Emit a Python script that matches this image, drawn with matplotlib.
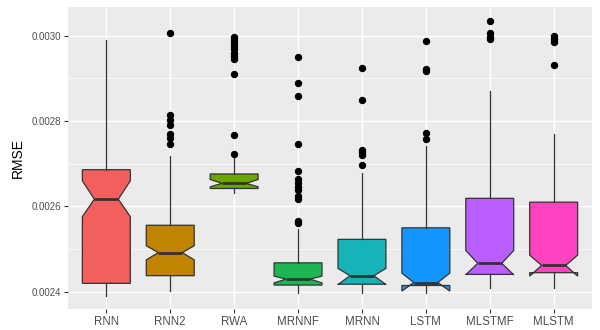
import matplotlib
matplotlib.use("Agg")
import matplotlib.pyplot as plt
from matplotlib.ticker import MultipleLocator

# box statistics
models = ["RNN", "RNN2", "RWA", "MRNNF", "MRNN", "LSTM", "MLSTMF", "MLSTM"]
whislo = [0.002391, 0.002403, 0.002631, 0.002397, 0.002397, 0.002397, 0.002410, 0.002410]
q1 = [0.002420, 0.002438, 0.002642, 0.002416, 0.002418, 0.002415, 0.002441, 0.002445]
cilo = [0.002576, 0.002475, 0.002646, 0.002421, 0.002417, 0.002402, 0.002440, 0.002437]
med = [0.002617, 0.002492, 0.002654, 0.002430, 0.002438, 0.002422, 0.002467, 0.002462]
cihi = [0.002660, 0.002508, 0.002663, 0.002437, 0.002455, 0.002444, 0.002497, 0.002486]
q3 = [0.002686, 0.002556, 0.002676, 0.002468, 0.002523, 0.002550, 0.002619, 0.002610]
whishi = [0.002989, 0.002718, 0.002718, 0.002547, 0.002678, 0.002742, 0.002869, 0.002769]
outliers = [
    [],
    [0.003005, 0.002814, 0.002802, 0.002790, 0.002770, 0.002759, 0.002746],
    [0.002997, 0.002990, 0.002983, 0.002975, 0.002968, 0.002960, 0.002953,
     0.002945, 0.002909, 0.002768, 0.002723],
    [0.002950, 0.002889, 0.002859, 0.002746, 0.002683, 0.002664, 0.002655,
     0.002645, 0.002638, 0.002624, 0.002617, 0.002566, 0.002561],
    [0.002925, 0.002850, 0.002732, 0.002727, 0.002720, 0.002696],
    [0.002986, 0.002922, 0.002918, 0.002773, 0.002758],
    [0.003034, 0.003005, 0.002997, 0.002991],
    [0.002999, 0.002991, 0.002984, 0.002930],
]
y_ticks = [0.0024, 0.0026, 0.0028, 0.0030]

fills = ["#F25F5C", "#C08400", "#6AA600", "#1CB753",
         "#17B3B9", "#1496FF", "#BA5EFF", "#FE42C0"]

stats = []
for i, name in enumerate(models):
    stats.append(dict(label=name, whislo=whislo[i], q1=q1[i], cilo=cilo[i], med=med[i],
                      cihi=cihi[i], q3=q3[i], whishi=whishi[i], fliers=outliers[i]))

plt.rcParams['font.family'] = ['Liberation Sans', 'DejaVu Sans']
fig = plt.figure(figsize=(6, 3.3), dpi=100)
ax = fig.add_axes([68 / 600, 1 - 309 / 330, 524 / 600, 302 / 330])
ax.set_facecolor("#EBEBEB")

bp = ax.bxp(stats, positions=range(1, len(models) + 1), widths=0.75,
            shownotches=True, showcaps=False, patch_artist=True,
            boxprops=dict(edgecolor="#333333", linewidth=0.9),
            whiskerprops=dict(color="#333333", linewidth=0.9),
            medianprops=dict(color="#333333", linewidth=2.0),
            flierprops=dict(marker="o", markerfacecolor="black",
                            markeredgecolor="black", markersize=4.3))
for patch, c in zip(bp["boxes"], fills):
    patch.set_facecolor(c)

ax.set_xlim(0.4, 8.6)
ax.set_ylim(0.002360, 0.0030667)
ax.set_yticks(y_ticks)
ax.set_yticklabels(["%.4f" % v for v in y_ticks])
ax.yaxis.set_minor_locator(MultipleLocator(0.0001))
ax.set_axisbelow(True)
ax.grid(True, which="major", color="white", linewidth=1.0)
ax.grid(True, which="minor", axis="y", color="white", linewidth=0.5)
for s in ax.spines.values():
    s.set_visible(False)
ax.tick_params(axis="both", which="major", length=2.8, width=0.8, color="#333333",
               labelcolor="#4D4D4D", pad=2)
ax.tick_params(axis="y", labelsize=7)
ax.tick_params(axis="x", labelsize=8.3)
ax.tick_params(which="minor", length=0)
ax.set_ylabel("RMSE", fontsize=10, labelpad=5)

fig.savefig("out.png", dpi=100)
